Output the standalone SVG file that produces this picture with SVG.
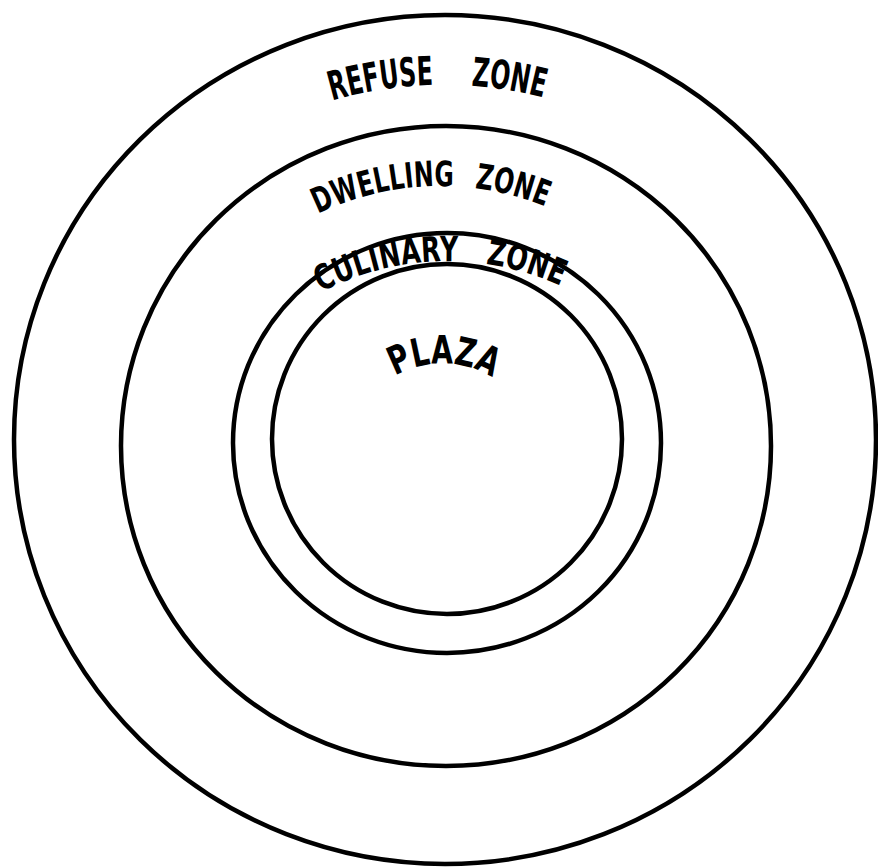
<svg xmlns="http://www.w3.org/2000/svg" width="878" height="867" viewBox="0 0 878 867">
<style>
.ring{fill:none;stroke:#000;stroke-width:4.5}
.lbl{font-family:"DejaVu Sans","Liberation Sans",sans-serif;font-weight:bold;fill:#000}
</style>
<defs>
<path id="pRefuse" d="M332,100.6 A400,400 0 0 1 570,105.4"/>
<path id="pDwell" d="M318,214 A280,280 0 0 1 575,220.7"/>
<path id="pCul" d="M321,292 A276,276 0 0 1 580,295.2"/>
<path id="pPlaza" d="M395,376 A95,95 0 0 1 500,383"/>
</defs>
<rect width="878" height="867" fill="#fff"/>
<g id="refuse-zone">
<ellipse class="ring" cx="445" cy="439.5" rx="431" ry="424.5"/>
<text class="lbl" font-size="40" word-spacing="50"><textPath href="#pRefuse" textLength="214" lengthAdjust="spacingAndGlyphs">REFUSE ZONE</textPath></text>
</g>
<g id="dwelling-zone">
<ellipse class="ring" cx="446" cy="446" rx="325" ry="320"/>
<text class="lbl" font-size="35" word-spacing="19"><textPath href="#pDwell" textLength="234" lengthAdjust="spacingAndGlyphs">DWELLING ZONE</textPath></text>
</g>
<g id="culinary-zone">
<ellipse class="ring" cx="447" cy="443" rx="214" ry="210"/>
<text class="lbl" font-size="35" word-spacing="26"><textPath href="#pCul" textLength="248" lengthAdjust="spacingAndGlyphs">CULINARY ZONE</textPath></text>
</g>
<g id="plaza">
<ellipse class="ring" cx="447" cy="439" rx="175" ry="175"/>
<text class="lbl" font-size="39"><textPath href="#pPlaza" textLength="102" lengthAdjust="spacingAndGlyphs">PLAZA</textPath></text>
</g>
<g id="connectors"/>
</svg>
